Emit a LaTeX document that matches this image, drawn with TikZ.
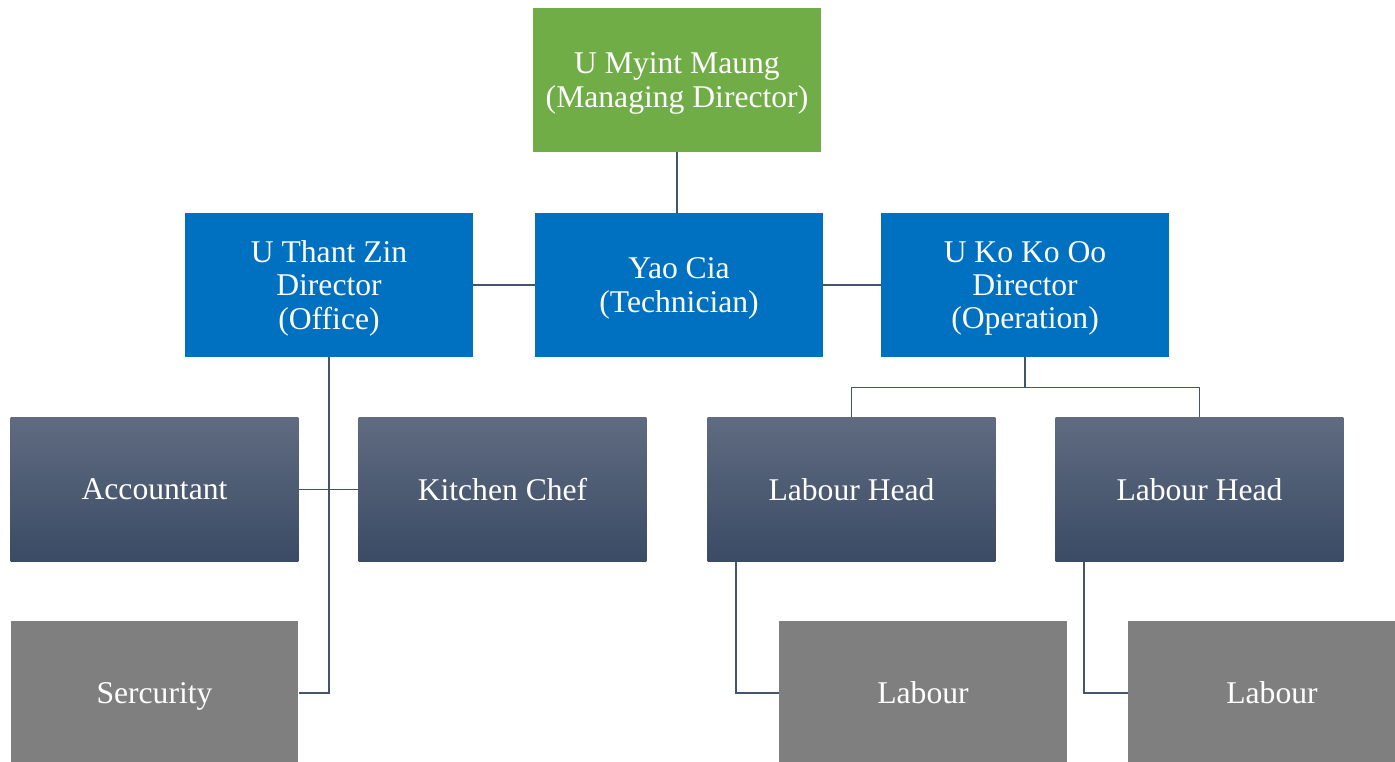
\documentclass[tikz,border=0pt]{standalone}
\usepackage{fontspec}
\setmainfont{Liberation Serif}
\definecolor{mdgreen}{HTML}{70AD47}
\definecolor{dirblue}{HTML}{0070C0}
\definecolor{slatetop}{HTML}{5F6B80}
\definecolor{slatebot}{HTML}{3B4B65}
\definecolor{staffgray}{HTML}{7F7F7F}
\definecolor{linkline}{HTML}{44546A}

\begin{document}
\begin{tikzpicture}[x=0.02cm,y=-0.02cm,
  box/.style={minimum width=5.76cm,minimum height=2.88cm,inner sep=0pt,text=white,
    align=center,text depth=0pt,font=\fontsize{18}{19}\selectfont},
  mdbox/.style={box,fill=mdgreen},
  dirbox/.style={box,fill=dirblue},
  headbox/.style={box,top color=slatetop,bottom color=slatebot},
  staffbox/.style={box,fill=staffgray},
  link/.style={draw=linkline,line width=0.8pt}]
\useasboundingbox (0,0) rectangle (1395,761);
\clip (0,0) rectangle (1395,761);

% top
\node[mdbox] (md) at (677,80) {U Myint Maung\\(Managing Director)};

% directors
\node[dirbox] (office) at (329,285) {U Thant Zin\\Director\\(Office)};
\node[dirbox] (tech) at (679,285) {Yao Cia\\(Technician)};
\node[dirbox] (oper) at (1025,285) {U Ko Ko Oo\\Director\\(Operation)};

% heads
\node[headbox] (acc) at (154.5,489.5) {Accountant};
\node[headbox] (chef) at (502.5,489.5) {Kitchen Chef};
\node[headbox] (lhA) at (851.5,489.5) {Labour Head};
\node[headbox] (lhB) at (1199.5,489.5) {Labour Head};

% staff
\node[staffbox] (sec) at (154.5,693) {Sercurity};
\node[staffbox] (labA) at (923,693) {Labour};
\node[staffbox] (labB) at (1272,693) {Labour};

% links
\draw[link] (md.south) -- (md.south |- tech.north);
\draw[link] (office.east) -- (tech.west);
\draw[link] (oper.west) -- (tech.east);
\draw[link] (office.south) |- (sec.east);
\draw[link] (acc.east) -- (chef.west);
\draw[link] (oper.south) -- ++(0,30) coordinate (split);
\draw[link] (split) -| (lhA.north);
\draw[link] (split) -| (lhB.north);
\draw[link] (lhA.south west) ++(29,0) coordinate (dropA) |- (labA.west);
\draw[link] (lhB.south west) ++(29,0) coordinate (dropB) |- (labB.west);
\end{tikzpicture}
\end{document}
